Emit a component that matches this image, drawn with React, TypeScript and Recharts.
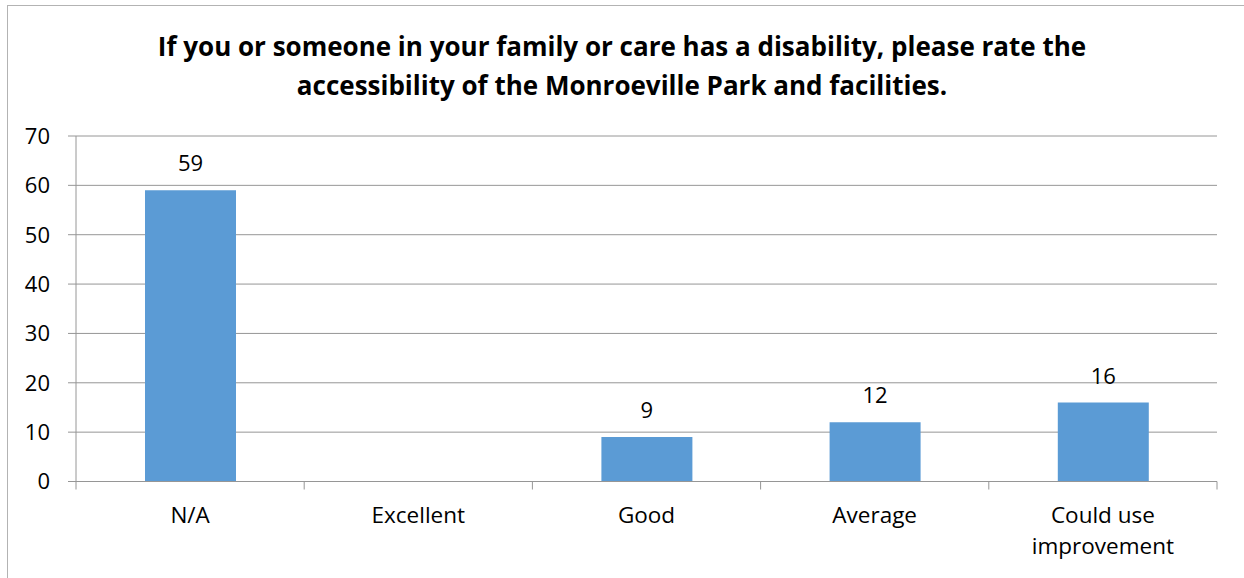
import { BarChart, Bar, XAxis, YAxis, CartesianGrid, LabelList } from 'recharts';

const categories = ['N/A', 'Excellent', 'Good', 'Average', 'Could use improvement'];
const counts: (number | null)[] = [59, null, 9, 12, 16];
const yTicks = [0, 10, 20, 30, 40, 50, 60, 70];

const titleLines = [
  'If you or someone in your family or care has a disability, please rate the',
  'accessibility of the Monroeville Park and facilities.',
];

const data = categories.map((name, i) => ({ name, count: counts[i] }));

const W = 1244;
const H = 578;
const M = { top: 136, right: 27, left: 0, bottom: 0 };
const Y_W = 76;
const BAND = (W - M.left - M.right - Y_W) / categories.length;
const FONT = '"Open Sans", sans-serif';
const GRID = '#969696';
const FS = 22;

// greedy word wrap by character count
function wrap(s: string, max = 12) {
  const lines: string[] = [];
  let cur = '';
  s.split(' ').forEach((w) => {
    const next = cur ? cur + ' ' + w : w;
    if (next.length > max && cur) {
      lines.push(cur);
      cur = w;
    } else cur = next;
  });
  if (cur) lines.push(cur);
  return lines;
}

function CategoryTick(props: any) {
  const { x, y, payload, index } = props;
  const half = BAND / 2;
  const lines = wrap(String(payload.value));
  return (
    <g>
      <line x1={x - half} x2={x - half} y1={y} y2={y + 8} stroke={GRID} />
      {index === categories.length - 1 && (
        <line x1={x + half} x2={x + half} y1={y} y2={y + 8} stroke={GRID} />
      )}
      <text x={x} y={y + 41} textAnchor="middle" fill="#000" fontSize={FS + 0.5} fontFamily={FONT}>
        {lines.map((l, i) => (
          <tspan key={i} x={x} dy={i === 0 ? 0 : 31}>
            {l}
          </tspan>
        ))}
      </text>
    </g>
  );
}

export default function App() {
  return (
    <div style={{ position: 'absolute', left: 0, top: 0, width: W, height: H, overflow: 'hidden', background: '#fff' }}>
      <div
        style={{
          position: 'absolute',
          left: 7,
          top: 5,
          width: W + 20,
          height: H + 20,
          border: '1px solid #b3b3b3',
        }}
      />
      <div
        style={{
          position: 'absolute',
          left: 0,
          top: 27,
          width: W,
          textAlign: 'center',
          fontFamily: FONT,
          fontWeight: 700,
          fontSize: 26,
          lineHeight: '39px',
          color: '#000',
        }}
      >
        {titleLines.map((l) => (
          <div key={l}>{l}</div>
        ))}
      </div>
      <div style={{ position: 'absolute', left: 0, top: 0 }}>
        <BarChart width={W} height={H} data={data} margin={M} barCategoryGap={0}>
          <CartesianGrid vertical={false} stroke={GRID} />
          <XAxis
            dataKey="name"
            height={H - 481.5 - M.bottom}
            axisLine={{ stroke: GRID }}
            tickLine={false}
            tickSize={0}
            tickMargin={0}
            interval={0}
            tick={<CategoryTick />}
          />
          <YAxis
            width={Y_W}
            domain={[0, 70]}
            ticks={yTicks}
            interval={0}
            axisLine={{ stroke: GRID }}
            tickLine={{ stroke: GRID }}
            tickSize={8}
            tickMargin={18}
            tick={{ fill: '#000', fontSize: FS, fontFamily: FONT }}
          />
          <Bar dataKey="count" fill="#5B9BD5" barSize={91} isAnimationActive={false}>
            <LabelList
              dataKey="count"
              position="top"
              offset={19}
              fill="#000"
              fontSize={FS}
              fontFamily={FONT}
            />
          </Bar>
        </BarChart>
      </div>
    </div>
  );
}
